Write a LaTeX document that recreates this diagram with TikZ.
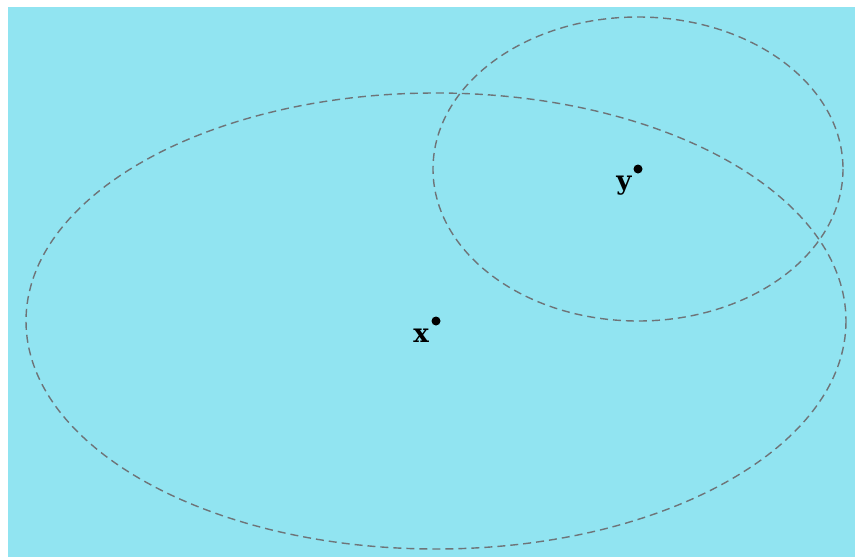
\documentclass[tikz,border=0pt]{standalone}
\usepackage{fontspec}
\setmainfont{Liberation Serif}
\newfontfamily\lblfont{DejaVu Serif}
\definecolor{bgc}{HTML}{91E4F1}
\definecolor{dashc}{HTML}{6E7478}
\tikzset{
  region/.style={draw=dashc, line width=1.4pt, dash pattern=on 8pt off 5pt},
  pt/.style={circle, fill=black, inner sep=0pt, minimum size=9pt},
  lbl/.style={font=\lblfont\bfseries\fontsize{26}{30}\selectfont, inner sep=0pt}
}
\begin{document}
\begin{tikzpicture}[x=1pt,y=-1pt]
\useasboundingbox (0,0) rectangle (855,557);
\fill[white] (0,0) rectangle (855,557);
\fill[bgc] (8,7) rectangle (855,557);
\draw[region] (436,321) ellipse [x radius=410, y radius=228];
\draw[region] (638,169) ellipse [x radius=205, y radius=152];
\node[pt] (x) at (436,321) {};
\node[pt] (y) at (638,169) {};
\node[lbl] (xl) at (421,336) {x};
\node[lbl] (yl) at (624,186) {y};
\end{tikzpicture}
\end{document}
